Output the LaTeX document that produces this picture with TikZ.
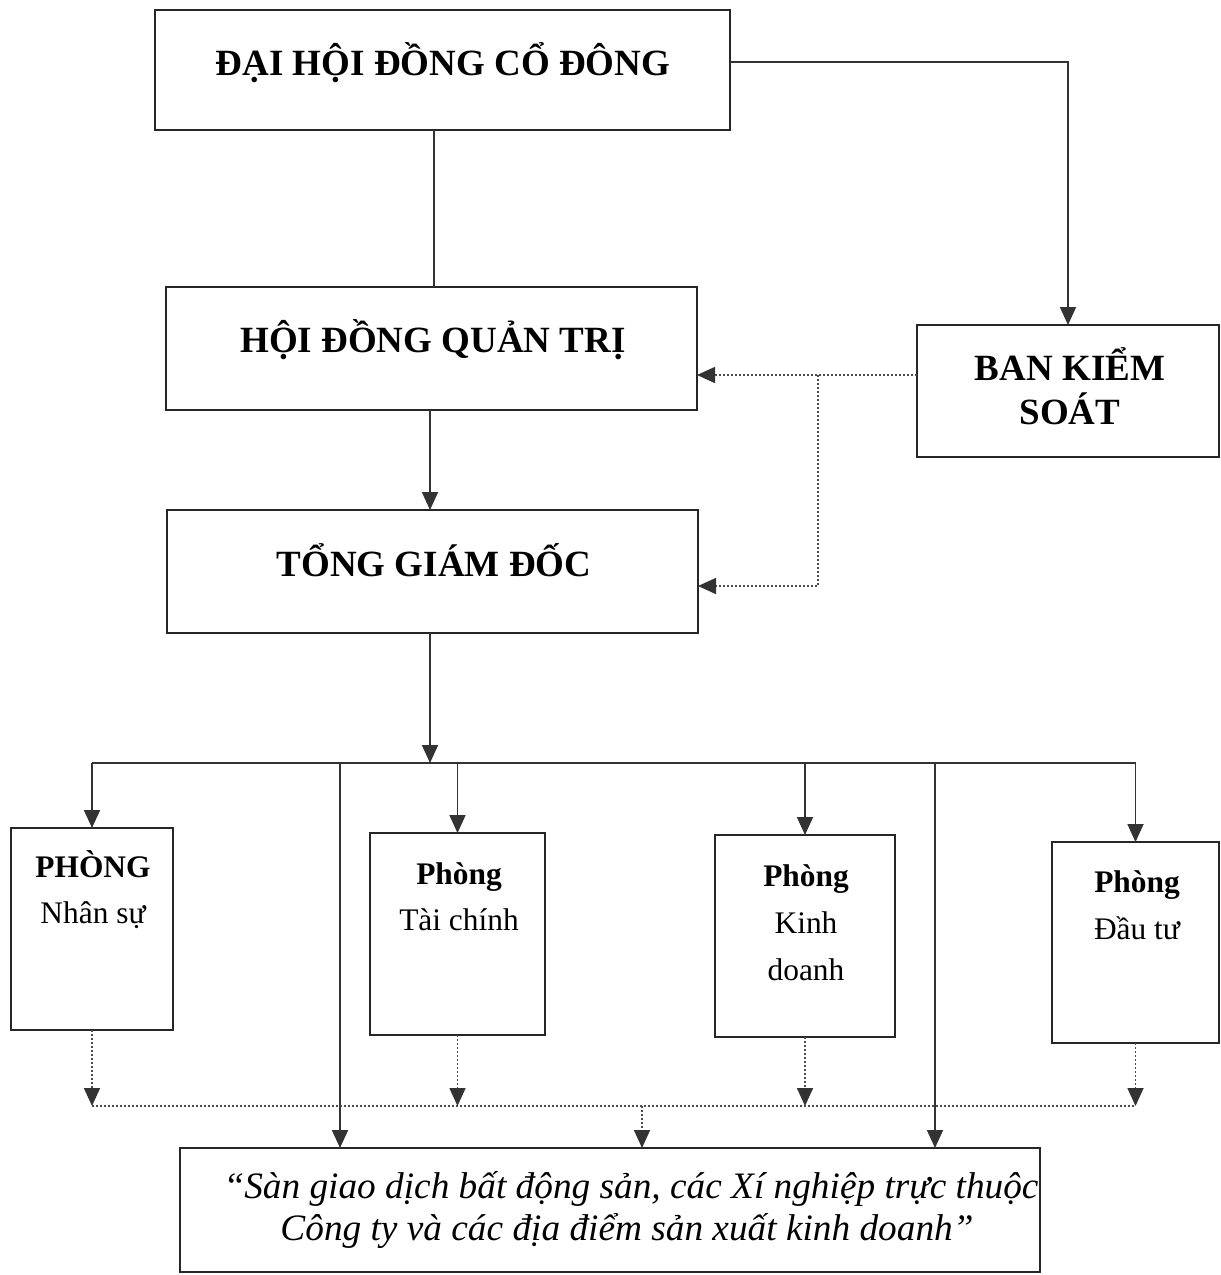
\documentclass[tikz,border=0pt]{standalone}
\usepackage{fontspec}
\setmainfont{Liberation Serif}
\usetikzlibrary{arrows.meta,fit}
\begin{document}
\begin{tikzpicture}[x=0.5pt,y=-0.5pt,
  box/.style={draw=black!85,line width=1pt,inner sep=0pt,outer sep=0pt,rectangle},
  conn/.style={draw=black!80,line width=0.9pt},
  arr/.style={conn,-{Triangle[length=9pt,width=8pt]}},
  dotln/.style={draw=black!70,line width=0.8pt,dash pattern=on 1pt off 1pt},
  dotarr/.style={dotln,-{Triangle[length=9pt,width=8pt,color=black!80,fill=black!80]}},
  big/.style={font=\fontsize{18.5}{21}\selectfont\bfseries,anchor=base,inner sep=0pt},
  dep/.style={font=\fontsize{15.7}{19}\selectfont,anchor=base,inner sep=0pt},
  depb/.style={font=\fontsize{15.7}{19}\selectfont\bfseries,anchor=base,inner sep=0pt},
  ital/.style={font=\fontsize{18.65}{21}\selectfont\itshape,anchor=base,inner sep=0pt}]
\useasboundingbox (0,0) rectangle (1221,1275);
\fill[white] (0,0) rectangle (1221,1275);
% box corners
\coordinate (a1) at (155,10);   \coordinate (a2) at (730,130);
\coordinate (b1) at (166,287);  \coordinate (b2) at (697,410);
\coordinate (c1) at (917,325);  \coordinate (c2) at (1219,457);
\coordinate (d1) at (167,510);  \coordinate (d2) at (698,633);
\coordinate (e1) at (11,828);   \coordinate (e2) at (173,1030);
\coordinate (f1) at (370,833);  \coordinate (f2) at (545,1035);
\coordinate (g1) at (715,835);  \coordinate (g2) at (895,1037);
\coordinate (h1) at (1052,842); \coordinate (h2) at (1219,1043);
\coordinate (i1) at (180,1148); \coordinate (i2) at (1040,1272);
\node[box,fit=(a1)(a2)] (dhd) {};
\node[box,fit=(b1)(b2)] (hdqt) {};
\node[box,fit=(c1)(c2)] (bks) {};
\node[box,fit=(d1)(d2)] (tgd) {};
\node[box,fit=(e1)(e2)] (ns) {};
\node[box,fit=(f1)(f2)] (tc) {};
\node[box,fit=(g1)(g2)] (kd) {};
\node[box,fit=(h1)(h2)] (dt) {};
\node[box,fit=(i1)(i2)] (sgd) {};
% texts
\node[big] (t1) at (443,75) {ĐẠI HỘI ĐỒNG CỔ ĐÔNG};
\node[big] (t2) at (433,352) {HỘI ĐỒNG QUẢN TRỊ};
\node[big] (t3a) at (1070,380) {BAN KIỂM};
\node[big] (t3b) at (1070,424) {SOÁT};
\node[big] (t4) at (434,576) {TỔNG GIÁM ĐỐC};
\node[depb] (t5a) at (93,877) {PHÒNG};
\node[dep] (t5b) at (93,923) {Nhân sự};
\node[depb] (t6a) at (459,884) {Phòng};
\node[dep] (t6b) at (459,930) {Tài chính};
\node[depb] (t7a) at (806,886) {Phòng};
\node[dep] (t7b) at (806,933) {Kinh};
\node[dep] (t7c) at (806,980) {doanh};
\node[depb] (t8a) at (1137,892) {Phòng};
\node[dep] (t8b) at (1137,939) {Đầu tư};
\node[ital] (t9a) at (631,1198) {“Sàn giao dịch bất động sản, các Xí nghiệp trực thuộc};
\node[ital] (t9b) at (627,1240) {Công ty và các địa điểm sản xuất kinh doanh”};
% solid connectors
\coordinate (v1) at (434,0);
\coordinate (v2) at (430,0);
\draw[conn] (dhd.south -| v1) -- (hdqt.north -| v1);
\draw[arr] ([yshift=4pt]dhd.east) -| (bks.north);
\draw[arr] (hdqt.south -| v2) -- (tgd.north -| v2);
\coordinate (bus) at (430,763);
\draw[arr] (tgd.south -| bus) -- (bus);
\draw[conn] (ns.north |- bus) -- (dt.north |- bus);
\draw[arr] (ns.north |- bus) -- (ns.north);
\draw[arr] (tc.north |- bus) -- (tc.north);
\draw[arr] (kd.north |- bus) -- (kd.north);
\draw[arr] (dt.north |- bus) -- (dt.north);
\coordinate (l1) at (340,763);
\coordinate (l2) at (935,763);
\draw[arr] (l1) -- (sgd.north -| l1);
\draw[arr] (l2) -- (sgd.north -| l2);
% dotted connectors
\coordinate (j1) at (818,375);
\coordinate (j2) at (818,586);
\draw[dotarr] (bks.west |- j1) -- (hdqt.east |- j1);
\draw[dotarr] (j1) -- (j2) -- (tgd.east |- j2);
\coordinate (dl) at (0,1106);
\draw[dotln] (ns.south |- dl) -- (dt.south |- dl);
\draw[dotarr] (ns.south) -- (ns.south |- dl);
\draw[dotarr] (tc.south) -- (tc.south |- dl);
\draw[dotarr] (kd.south) -- (kd.south |- dl);
\draw[dotarr] (dt.south) -- (dt.south |- dl);
\coordinate (dm) at (642,1106);
\draw[dotarr] (dm) -- (sgd.north -| dm);
\end{tikzpicture}
\end{document}
